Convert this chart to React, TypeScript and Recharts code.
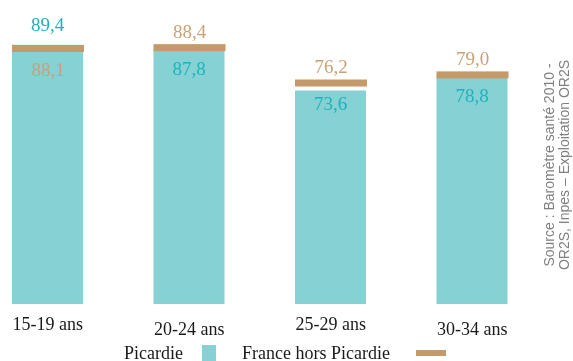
import React from 'react'
import { ComposedChart, Bar, XAxis, YAxis, LabelList, Legend } from 'recharts'

const ageGroups = ['15-19 ans', '20-24 ans', '25-29 ans', '30-34 ans']
const picardie = [89.4, 87.8, 73.6, 78.8]
const france = [88.1, 88.4, 76.2, 79.0]
const sourceLines = ['Source : Baromètre santé 2010 -', 'OR2S, Inpes – Exploitation OR2S']

const CYAN = '#86d1d4'
const TAN = '#c49a6a'
const CYAN_TXT = '#1bb3bd'
const TAN_TXT = '#c9a176'
const SERIF = '"Liberation Serif", "Times New Roman", serif'

const data = ageGroups.map((age, i) => ({ age, picardie: picardie[i], france: france[i] }))

const fmt = (v: number) => v.toFixed(1).replace('.', ',')

// marqueur France : trait épais centré sur la valeur
const Marker = (props: any) => {
   const { x, y, width, fill } = props
   return <rect x={x} y={y - 3.5} width={width} height={7} fill={fill} />
}

const makeLabel = (series: 'p' | 'f') => (props: any) => {
   const { x, y, width, height, value, index } = props
   const other = series === 'p' ? france[index] : picardie[index]
   const k = height / value
   const yOther = y + (value - other) * k
   const yF = series === 'f' ? y : yOther
   let cy
   if (value > other) cy = series === 'p' ? y - 20.5 : y - 16.5
   else cy = yF + 20.5
   return (
      <text
         x={x + width / 2}
         y={cy + 6.5}
         textAnchor="middle"
         fontFamily={SERIF}
         fontSize={19}
         fill={series === 'p' ? CYAN_TXT : TAN_TXT}
      >
         {fmt(value)}
      </text>
   )
}

const AgeTick = (props: any) => {
   const { x, y, payload, index } = props
   return (
      <text x={x} y={y + (index % 2 ? 5 : 0)} dy="0.71em" textAnchor="middle" fontFamily={SERIF} fontSize={18} fill="#1a1a1a">
         {payload.value}
      </text>
   )
}

const LegendBox = (props: any) => {
   const items = props.payload || []
   const p = items.find((it: any) => it.dataKey === 'picardie')
   const f = items.find((it: any) => it.dataKey === 'france')
   const txt: React.CSSProperties = { position: 'absolute', top: 0, fontFamily: SERIF, fontSize: 18, lineHeight: '20px', color: '#1a1a1a', whiteSpace: 'nowrap' }
   return (
      <div style={{ position: 'relative', height: 20 }}>
         <span style={{ ...txt, left: 124 }}>{p?.value}</span>
         <span style={{ position: 'absolute', left: 202, top: 2, width: 14, height: 16, background: p?.color }} />
         <span style={{ ...txt, left: 242 }}>{f?.value}</span>
         <span style={{ position: 'absolute', left: 416, top: 7, width: 30, height: 6, background: f?.color }} />
      </div>
   )
}

export default function App() {
   return (
      <div style={{ position: 'fixed', left: 0, top: 0 }}>
         <ComposedChart
            width={573}
            height={361}
            data={data}
            margin={{ top: 14, right: 30, bottom: 7, left: -23 }}
         >
            <XAxis xAxisId="main" dataKey="age" axisLine={false} tickLine={false} tickSize={0} tickMargin={13} tick={<AgeTick />} interval={0} />
            <XAxis xAxisId="fr" dataKey="age" hide height={0} />
            <YAxis domain={[0, 100]} hide />
            <Bar xAxisId="main" dataKey="picardie" name="Picardie" fill={CYAN} barSize={71} isAnimationActive={false}>
               <LabelList dataKey="picardie" content={makeLabel('p')} />
            </Bar>
            <Bar xAxisId="fr" dataKey="france" name="France hors Picardie" fill={TAN} barSize={72} shape={<Marker />} isAnimationActive={false}>
               <LabelList dataKey="france" content={makeLabel('f')} />
            </Bar>
            <Legend
               verticalAlign="bottom"
               content={<LegendBox />}
               wrapperStyle={{ top: 343, left: 0, bottom: 'auto', width: 573, height: 20 }}
            />
            <g fill="#808080" fontFamily='"Liberation Sans", Arial, sans-serif' fontSize={14}>
               {sourceLines.map((line, i) => (
                  <text key={i} x={554 + i * 15} y={165} textAnchor="middle" transform={`rotate(-90, ${554 + i * 15}, 165)`}>
                     {line}
                  </text>
               ))}
            </g>
         </ComposedChart>
      </div>
   )
}
